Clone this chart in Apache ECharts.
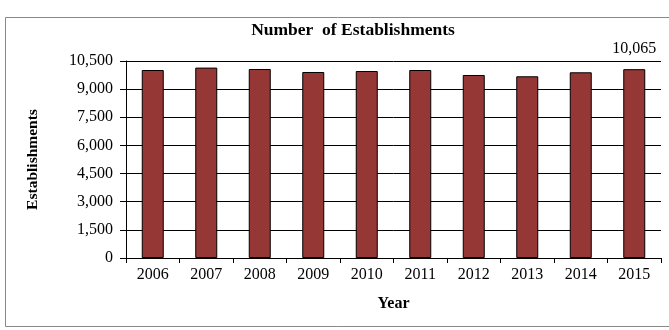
<!DOCTYPE html>
<html><head><meta charset="utf-8">
<script src="https://cdn.jsdelivr.net/npm/echarts@6/dist/echarts.min.js"></script>
<style>html,body{margin:0;padding:0;background:#fff}#c{width:669px;height:330px}</style>
</head><body><div id="c"></div>
<script>
const years = ['2006','2007','2008','2009','2010','2011','2012','2013','2014','2015'];
const establishments = [10020, 10148, 10074, 9914, 9967, 10020, 9754, 9685, 9898, 10065];
const yTicks = [0, 1500, 3000, 4500, 6000, 7500, 9000, 10500];
const labelledIndex = 9;

const serif = '"Liberation Serif", "DejaVu Serif", serif';
const chart = echarts.init(document.getElementById('c'));
chart.setOption({
  animation: false,
  backgroundColor: '#fff',
  title: {
    text: 'Number  of Establishments', left: 348, top: 16, textAlign: 'center',
    textStyle: { fontFamily: serif, fontSize: 17.5, fontWeight: 'bold', color: '#000' }
  },
  graphic: [{
    type: 'rect', shape: { x: 5.5, y: 17.5, width: 700, height: 309 },
    style: { fill: 'none', stroke: '#888', lineWidth: 1 }
  }],
  grid: { left: 126, right: 8, top: 61, bottom: 72, containLabel: false },
  xAxis: {
    type: 'category', data: years,
    name: 'Year', nameLocation: 'middle', nameGap: 38,
    nameTextStyle: { fontFamily: serif, fontSize: 16, fontWeight: 'bold', color: '#000' },
    axisLine: { lineStyle: { color: '#000', width: 1 } },
    axisTick: { show: true, alignWithLabel: false, length: 5, lineStyle: { color: '#000' } },
    axisLabel: { fontFamily: serif, fontSize: 16, color: '#000', margin: 9 }
  },
  yAxis: {
    type: 'value', min: 0, max: yTicks[yTicks.length - 1], interval: 1500,
    name: 'Establishments', nameLocation: 'middle', nameGap: 85, nameRotate: 90,
    nameTextStyle: { fontFamily: serif, fontSize: 15.5, fontWeight: 'bold', color: '#000' },
    axisLine: { show: true, lineStyle: { color: '#000' } },
    axisTick: { show: true, length: 6, lineStyle: { color: '#000' } },
    axisLabel: {
      fontFamily: serif, fontSize: 16, color: '#000', margin: 13,
      formatter: v => v.toLocaleString('en-US')
    },
    splitLine: { show: true, lineStyle: { color: '#000', width: 1 } }
  },
  series: [{
    type: 'bar',
    data: establishments.map((v, i) => i === labelledIndex ? {
      value: v,
      label: {
        show: true, position: 'top', distance: 12,
        fontFamily: serif, fontSize: 16, color: '#000',
        formatter: p => p.value.toLocaleString('en-US')
      }
    } : v),
    barWidth: 22,
    itemStyle: { color: '#953735', borderColor: '#000', borderWidth: 1 }
  }]
});
</script></body></html>
